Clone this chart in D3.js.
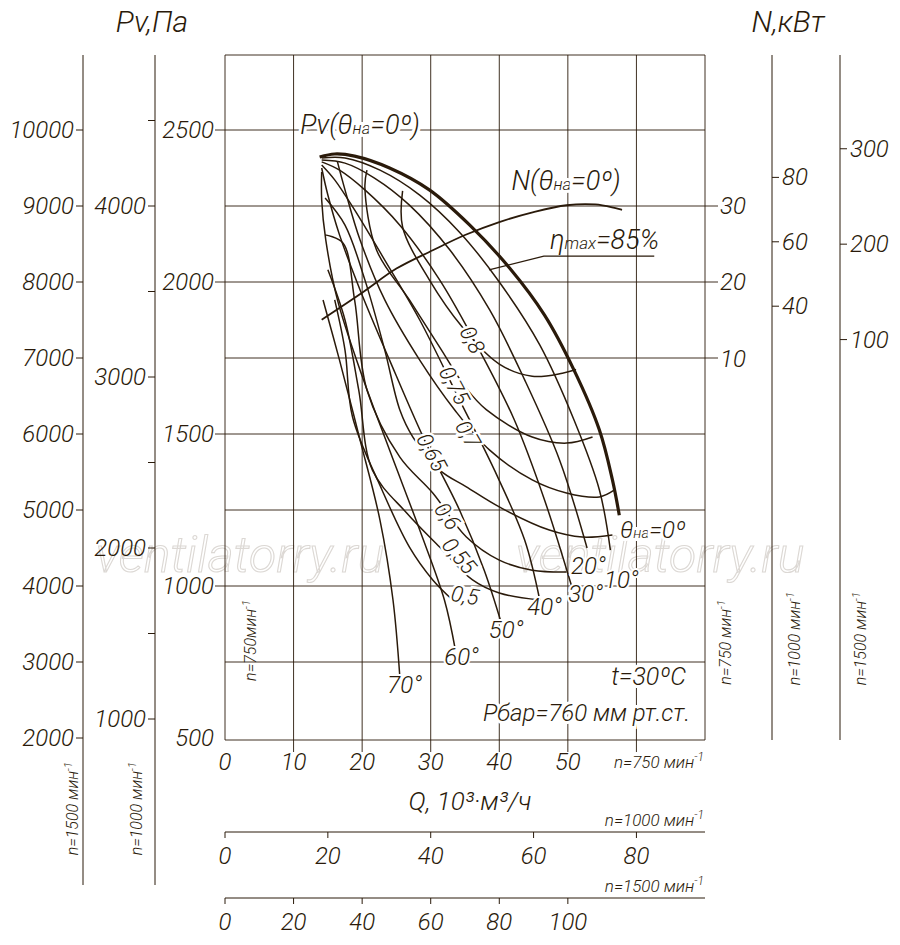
<!DOCTYPE html>
<html><head><meta charset="utf-8">
<script src="https://cdn.jsdelivr.net/npm/d3@7"></script>
<style>
body{margin:0;background:#fff}
text{font-family:"Roboto","Liberation Sans",sans-serif;font-weight:300;font-style:italic;fill:#2a1a0a}
</style></head>
<body><div id="app"></div>
<script>
// Q in 10^3 m3/h, Pv in Pa (n = 750 rpm)
var qTicks750 = [0,10,20,30,40,50];
var qTicks1000 = [0,20,40,60,80];
var qTicks1500 = [0,20,40,60,80,100];
var pvTicks750 = [500,1000,1500,2000,2500];
var pvTicks1000 = [1000,2000,3000,4000];
var pvTicks1500 = [2000,3000,4000,5000,6000,7000,8000,9000,10000];
var nTicks750 = [10,20,30];
var nTicks1000 = [40,60,80];
var nTicks1500 = [100,200,300];

var thetaNames = ["0°","10°","20°","30°","40°","50°","60°","70°"];
var thetaCurves = [
  [[13.8,2411],[16.0,2421],[18.9,2414],[24.0,2375],[29.8,2303],[35.7,2187],[41.5,2046],[46.6,1891],[50.9,1710],[54.6,1513],[56.5,1349],[57.5,1233]],
  [[14.1,2408],[17.5,2408],[22.6,2368],[28.4,2286],[34.2,2164],[40.0,2000],[45.9,1793],[50.9,1546],[54.6,1316],[56.2,1118]],
  [[14.1,2401],[17.5,2391],[21.8,2342],[26.9,2253],[32.8,2105],[38.6,1908],[43.7,1678],[48.8,1414],[52.8,1125]],
  [[14.1,2395],[16.7,2368],[20.4,2303],[25.5,2187],[31.3,2007],[37.1,1776],[42.2,1546],[46.6,1283],[50.5,1003]],
  [[14.1,2385],[16.0,2336],[18.9,2237],[23.3,2072],[28.4,1875],[34.2,1612],[39.3,1381],[43.7,1151],[45.9,954]],
  [[14.1,2375],[15.0,2286],[16.7,2155],[19.7,1974],[24.0,1743],[29.1,1480],[34.2,1250],[37.8,1052],[40.3,878]],
  [[14.1,2362],[14.1,2270],[14.7,2138],[16.4,1941],[19.7,1710],[24.0,1447],[28.4,1184],[32.0,954],[33.6,789]],
  [[14.3,1941],[16.7,1743],[19.7,1480],[22.6,1217],[24.5,954],[25.5,700]]
];
var etaNames = ["0,8","0,75","0,7","0,65","0,6","0,55","0,5"];
var etaCurves = [
  [[25.9,2300],[25.9,2181],[29.8,2007],[34.6,1852],[40.0,1730],[44.8,1690],[49.2,1700],[51.2,1712]],
  [[20.7,2368],[20.4,2312],[22.1,2105],[26.9,1941],[31.3,1786],[35.2,1650],[38.1,1580],[44.8,1490],[49.8,1470],[53.6,1490]],
  [[16.4,2395],[17.5,2303],[19.7,2138],[23.3,1941],[28.4,1743],[33.5,1579],[38.6,1447],[44.8,1349],[49.8,1306],[54.6,1293],[56.8,1316]],
  [[14.6,2276],[17.5,2187],[20.4,2007],[23.3,1776],[25.5,1579],[27.4,1490],[31.3,1381],[35.2,1326],[40.0,1260],[47.3,1184],[52.1,1161],[56.5,1168]],
  [[14.6,2155],[17.2,2128],[18.9,1941],[20.7,1645],[25.5,1424],[30.3,1306],[35.2,1161],[40.0,1085],[44.8,1052],[49.8,1046]],
  [[15.0,2040],[17.5,1875],[19.5,1645],[21.5,1381],[26.5,1240],[31.3,1128],[36.1,1020],[40.0,977],[45.9,954]],
  [[16.0,1941],[17.5,1776],[18.6,1556],[22.9,1316],[26.9,1128],[30.3,1020],[33.2,954]]
];
// label position (Q, Pv) and rotation for each efficiency curve
var etaLabelPos = [[36.1,1810,62],[33.5,1660,62],[35.5,1500,60],[30.2,1440,62],[32.5,1230,55],[34.2,1100,50],[35.0,970,10]];
// N, kW at 750 rpm
var powerCurve = [[14.1,15.1],[20.1,18.7],[25.0,21.8],[30.3,24.2],[35.0,26.2],[40.0,27.9],[45.0,29.2],[49.8,30.1],[54.0,30.2],[57.9,29.5]];

var W = 900, H = 945, ink = "#2a1a0a";
var svg = d3.select("#app").append("svg").attr("width",W).attr("height",H);

var x = d3.scaleLinear().domain([0,70]).range([225,705]);
var y = d3.scaleLinear().domain([500,2500]).range([738,130]);
var yN = d3.scaleLinear().domain([0,30]).range([435,206]);

// watermark (behind everything)
["ventilatorry.ru","ventilatorry.ru"].forEach(function(t,i){
  svg.append("text").attr("x",i ? 660 : 240).attr("y",572).attr("text-anchor","middle")
    .attr("font-size",50).style("fill","none").attr("stroke","#dcd8d4").attr("stroke-width",1.1).text(t);
});

// grid
var grid = svg.append("g").attr("stroke",ink).attr("stroke-width",0.9);
[10,20,30,40,50,60].forEach(function(q){
  grid.append("line").attr("x1",x(q)).attr("x2",x(q)).attr("y1",55).attr("y2",752);
});
grid.append("line").attr("x1",225).attr("x2",225).attr("y1",55).attr("y2",740);
grid.append("line").attr("x1",705).attr("x2",705).attr("y1",55).attr("y2",740);
grid.append("line").attr("x1",225).attr("x2",705).attr("y1",55).attr("y2",55);
grid.append("line").attr("x1",225).attr("x2",705).attr("y1",740).attr("y2",740);
d3.range(750,2501,250).forEach(function(p){
  var lab = pvTicks750.indexOf(p) >= 0;
  grid.append("line").attr("x1", lab ? 215 : 225).attr("x2", [2250,2000,1750].indexOf(p)>=0 ? 718 : 705)
    .attr("y1",y(p)).attr("y2",y(p));
});

// main Pv axis labels
svg.selectAll(".pv750").data(pvTicks750).join("text")
  .attr("x",214).attr("y",function(d){return y(d)+8}).attr("text-anchor","end")
  .attr("font-size",24).text(function(d){return d});
svg.selectAll(".q750").data(qTicks750).join("text")
  .attr("x",function(d){return x(d)}).attr("y",770).attr("text-anchor","middle")
  .attr("font-size",24).text(function(d){return d});

// left axes for other speeds
var yP1500 = d3.scaleLinear().domain([2000,10000]).range([y(500),y(2500)]);
var yP1000 = d3.scaleLinear().domain([0,4000]).range([y(0),y(4000*9/16)]);
svg.append("line").attr("x1",83).attr("x2",83).attr("y1",55).attr("y2",885).attr("stroke",ink);
svg.append("line").attr("x1",155).attr("x2",155).attr("y1",55).attr("y2",885).attr("stroke",ink);
svg.selectAll(".p15").data(pvTicks1500).join("line")
  .attr("x1",76).attr("x2",83).attr("y1",function(d){return yP1500(d)}).attr("y2",function(d){return yP1500(d)}).attr("stroke",ink);
svg.selectAll(".p15t").data(pvTicks1500).join("text")
  .attr("x",74).attr("y",function(d){return yP1500(d)+8}).attr("text-anchor","end")
  .attr("font-size",24).text(function(d){return d});
svg.selectAll(".p10").data([1000,1500,2000,2500,3000,3500,4000,4500]).join("line")
  .attr("x1",148).attr("x2",155).attr("y1",function(d){return yP1000(d)}).attr("y2",function(d){return yP1000(d)}).attr("stroke",ink);
svg.selectAll(".p10t").data(pvTicks1000).join("text")
  .attr("x",146).attr("y",function(d){return yP1000(d)+8}).attr("text-anchor","end")
  .attr("font-size",24).text(function(d){return d});

// right N axes
var yN1000 = function(n){return yN(n*27/64)};
var yN1500 = function(n){return yN(n/8)};
svg.selectAll(".n750").data(nTicks750).join("text")
  .attr("x",720).attr("y",function(d){return yN(d)+8}).attr("font-size",24).text(function(d){return d});
[[772,nTicks1000,yN1000],[840,nTicks1500,yN1500]].forEach(function(a){
  svg.append("line").attr("x1",a[0]).attr("x2",a[0]).attr("y1",55).attr("y2",740).attr("stroke",ink);
  a[1].forEach(function(d){
    svg.append("line").attr("x1",a[0]).attr("x2",a[0]+7).attr("y1",a[2](d)).attr("y2",a[2](d)).attr("stroke",ink);
    svg.append("text").attr("x",a[0]+10).attr("y",a[2](d)+8).attr("font-size",24).text(d);
  });
});

// bottom Q axes for other speeds
var x1000 = function(q){return x(q*3/4)};
var x1500 = function(q){return x(q/2)};
[[832,qTicks1000,x1000],[898,qTicks1500,x1500]].forEach(function(a){
  svg.append("line").attr("x1",225).attr("x2",705).attr("y1",a[0]).attr("y2",a[0]).attr("stroke",ink);
  a[1].forEach(function(d){
    svg.append("line").attr("x1",a[2](d)).attr("x2",a[2](d)).attr("y1",a[0]).attr("y2",a[0]+6).attr("stroke",ink);
    svg.append("text").attr("x",a[2](d)).attr("y",a[0]+32).attr("text-anchor","middle").attr("font-size",24).text(d);
  });
});

var line = d3.line().x(function(d){return x(d[0])}).y(function(d){return y(d[1])}).curve(d3.curveCatmullRom);
var curves = svg.append("g").attr("fill","none").attr("stroke",ink);
etaCurves.forEach(function(c){ curves.append("path").attr("d",line(c)).attr("stroke-width",1.5); });
thetaCurves.forEach(function(c,i){ curves.append("path").attr("d",line(c)).attr("stroke-width", i ? 1.5 : 3.2); });
var lineN = d3.line().x(function(d){return x(d[0])}).y(function(d){return yN(d[1])}).curve(d3.curveCatmullRom);
curves.append("path").attr("d",lineN(powerCurve)).attr("stroke-width",1.8);
// eta max leader
curves.append("path").attr("stroke-width",1.2)
  .attr("d","M"+x(38.5)+","+y(2040)+"L"+x(46.5)+","+y(2085)+"L"+x(62.6)+","+y(2085));

// efficiency labels
etaNames.forEach(function(t,i){
  var p = etaLabelPos[i];
  svg.append("text").attr("transform","translate("+x(p[0])+","+y(p[1])+") rotate("+p[2]+")")
    .attr("text-anchor","middle").attr("dy",8).attr("font-size",22)
    .attr("stroke","#fff").attr("stroke-width",5).attr("paint-order","stroke").text(t);
});
// theta labels
var thetaLabelPos = [null,[57.8,1020],[53.0,1065],[52.6,975],[46.6,930],[41.0,855],[34.5,765],[26.2,675]];
thetaLabelPos.forEach(function(p,i){
  if(!p) return;
  svg.append("text").attr("x",x(p[0])).attr("y",y(p[1])+8).attr("text-anchor","middle")
    .attr("font-size",24).attr("stroke","#fff").attr("stroke-width",4).attr("paint-order","stroke").text(thetaNames[i]);
});

function subLabel(tx,ty,pre,post,size,anchor){
  var t = svg.append("text").attr("x",tx).attr("y",ty).attr("font-size",size).attr("text-anchor",anchor||"start")
    .attr("stroke","#fff").attr("stroke-width",6).attr("paint-order","stroke");
  t.append("tspan").text(pre+"θ");
  t.append("tspan").attr("font-size",size*0.62).text("на");
  t.append("tspan").text(post);
}
subLabel(360,134,"Pv(","=0º)",27,"middle");
subLabel(566,190,"N(","=0º)",27,"middle");
subLabel(620,538,"","=0º",24,"start");
var eta = svg.append("text").attr("x",550).attr("y",249).attr("font-size",27);
eta.append("tspan").text("η");
eta.append("tspan").attr("font-size",17).text("max");
eta.append("tspan").text("=85%");

svg.append("text").attr("x",152).attr("y",32).attr("text-anchor","middle").attr("font-size",30).text("Pv,Па");
svg.append("text").attr("x",788).attr("y",32).attr("text-anchor","middle").attr("font-size",30).text("N,кВт");
svg.append("text").attr("x",686).attr("y",685).attr("text-anchor","end").attr("font-size",25)
  .attr("stroke","#fff").attr("stroke-width",6).attr("paint-order","stroke").text("t=30ºC");
svg.append("text").attr("x",690).attr("y",721).attr("text-anchor","end").attr("font-size",24)
  .attr("stroke","#fff").attr("stroke-width",6).attr("paint-order","stroke").text("Рбар=760 мм рт.ст.");
svg.append("text").attr("x",470).attr("y",810).attr("text-anchor","middle").attr("font-size",26).text("Q,  10³·м³/ч");

// speed notes
function speedNote(tx,ty,label,rot,size){
  var t = svg.append("text").attr("font-size",size).attr("text-anchor","end")
    .attr("transform","translate("+tx+","+ty+") rotate("+rot+")");
  t.append("tspan").text(label);
  t.append("tspan").attr("font-size",size*0.7).attr("dy",-size*0.4).text("-1");
}
speedNote(704,768,"n=750 мин",0,17);
speedNote(704,826,"n=1000 мин",0,17);
speedNote(704,892,"n=1500 мин",0,17);
speedNote(256,600,"n=750мин",-90,16);
speedNote(731,600,"n=750 мин",-90,16);
speedNote(800,592,"n=1000 мин",-90,16);
speedNote(866,592,"n=1500 мин",-90,16);
speedNote(78,762,"n=1500 мин",-90,16);
speedNote(142,762,"n=1000 мин",-90,16);
</script></body></html>
